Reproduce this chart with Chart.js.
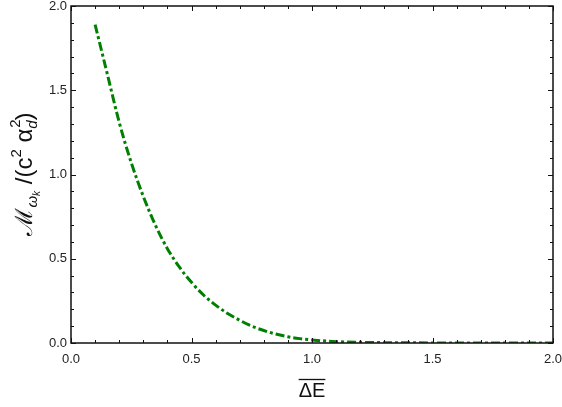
<!DOCTYPE html>
<html>
<head>
<meta charset="utf-8">
<script src="https://cdn.jsdelivr.net/npm/chart.js@4"></script>
<style>
  html, body { margin: 0; padding: 0; background: #fff; }
  #wrap { width: 562px; height: 407px; position: relative; }
</style>
</head>
<body>
<div id="wrap"><canvas id="myChart"></canvas></div>
<script>
// values
const xValues = [0.1, 0.15, 0.2, 0.25, 0.3, 0.35, 0.4, 0.45, 0.5, 0.55, 0.6, 0.65, 0.7, 0.75, 0.8, 0.85, 0.9, 0.95, 1.0, 1.1, 1.2, 1.3, 1.4, 1.5, 1.6, 1.8, 2.0];
const yValues = [1.89, 1.60, 1.31, 1.07, 0.87, 0.70, 0.56, 0.45, 0.36, 0.285, 0.225, 0.175, 0.135, 0.10, 0.074, 0.053, 0.037, 0.026, 0.018, 0.008, 0.004, 0.002, 0.001, 0.0005, 0, 0, 0];
const xTicks = [0, 0.5, 1.0, 1.5, 2.0];
const yTicks = [0, 0.5, 1.0, 1.5, 2.0];

const font = "'Liberation Sans', Arial, Helvetica, sans-serif";

const framePlugin = {
  id: 'frame',
  afterDraw(chart) {
    const ctx = chart.ctx;
    const a = chart.chartArea;
    const xs = chart.scales.x, ys = chart.scales.y;
    ctx.save();
    ctx.strokeStyle = '#111';
    ctx.lineWidth = 1.5;
    ctx.strokeRect(a.left, a.top, a.right - a.left, a.bottom - a.top);
    ctx.lineWidth = 1;
    ctx.beginPath();
    for (let i = 0; i <= 20; i++) {
      const v = i / 10;
      const len = i % 5 === 0 ? 5 : 3;
      const px = Math.round(xs.getPixelForValue(v)) + 0.5;
      ctx.moveTo(px, a.bottom); ctx.lineTo(px, a.bottom - len);
      ctx.moveTo(px, a.top); ctx.lineTo(px, a.top + len);
      const py = Math.round(ys.getPixelForValue(v)) + 0.5;
      ctx.moveTo(a.left, py); ctx.lineTo(a.left + len, py);
      ctx.moveTo(a.right, py); ctx.lineTo(a.right - len, py);
    }
    ctx.stroke();

    // x title: overlined Delta E
    ctx.fillStyle = '#111';
    ctx.font = '20px ' + font;
    ctx.textBaseline = 'alphabetic';
    ctx.textAlign = 'center';
    const xt = '\u0394E';
    const cx = 312;
    ctx.fillText(xt, cx, 397);
    const w = ctx.measureText(xt).width;
    ctx.lineWidth = 1.3;
    ctx.beginPath();
    ctx.moveTo(cx - w / 2, 379.5); ctx.lineTo(cx + w / 2, 379.5);
    ctx.stroke();

    // y title: M_{omega_k} / (c^2 alpha_d^2)
    const parts = [
      { t: '\u2133', f: '24px ' + font, dy: 0 },
      { t: '\u03c9', f: 'italic 15px ' + font, dy: 5 },
      { t: 'k', f: 'italic 10px ' + font, dy: 8 },
      { t: ' /(', f: '24px ' + font, dy: 0 },
      { t: 'c', f: '24px ' + font, dy: 0 },
      { t: '2', f: '15px ' + font, dy: -11 },
      { t: ' \u03b1', f: '24px ' + font, dy: 0 },
      { t: 'd', f: 'italic 15px ' + font, dy: 5 },
      { t: '2', f: '15px ' + font, dy: -12, overlay: true },
      { t: ')', f: '24px ' + font, dy: 0 }
    ];
    let total = 0, widths = [];
    parts.forEach(p => { ctx.font = p.f; const pw = ctx.measureText(p.t).width; widths.push(pw); if (!p.overlay) total += pw; });
    ctx.translate(32, 174);
    ctx.rotate(-Math.PI / 2);
    ctx.textAlign = 'left';
    let x = -total / 2, lastX = 0;
    parts.forEach((p, i) => {
      ctx.font = p.f;
      if (p.overlay) {
        ctx.fillText(p.t, lastX + 1, p.dy);
        return;
      }
      ctx.fillText(p.t, x, p.dy);
      lastX = x;
      x += widths[i];
    });
    ctx.restore();
  }
};

new Chart(document.getElementById('myChart'), {
  type: 'line',
  data: {
    datasets: [{
      data: xValues.map((v, i) => ({ x: v, y: yValues[i] })),
      borderColor: 'rgb(0,128,0)',
      borderWidth: 3,
      borderDash: [9, 3, 3, 3],
      pointRadius: 0,
      cubicInterpolationMode: 'monotone',
      fill: false
    }]
  },
  options: {
    responsive: true,
    maintainAspectRatio: false,
    animation: false,
    layout: { autoPadding: false, padding: { left: 0, right: 9, top: 6, bottom: 0 } },
    plugins: { legend: { display: false }, tooltip: { enabled: false } },
    scales: {
      x: {
        type: 'linear', min: 0, max: 2,
        grid: { display: false, drawTicks: false },
        border: { display: false },
        afterBuildTicks: s => { s.ticks = xTicks.map(v => ({ value: v })); },
        afterFit: s => { s.height = 64; s.paddingLeft = 0; s.paddingRight = 0; },
        ticks: { padding: 9, color: '#222', font: { family: font, size: 13 }, callback: v => v.toFixed(1), maxRotation: 0 }
      },
      y: {
        type: 'linear', min: 0, max: 2,
        grid: { display: false, drawTicks: false },
        border: { display: false },
        afterBuildTicks: s => { s.ticks = yTicks.map(v => ({ value: v })); },
        afterFit: s => { s.width = 71; s.paddingTop = 0; s.paddingBottom = 0; },
        ticks: { padding: 4, color: '#222', font: { family: font, size: 13 }, callback: v => v.toFixed(1) }
      }
    }
  },
  plugins: [framePlugin]
});
</script>
</body>
</html>
